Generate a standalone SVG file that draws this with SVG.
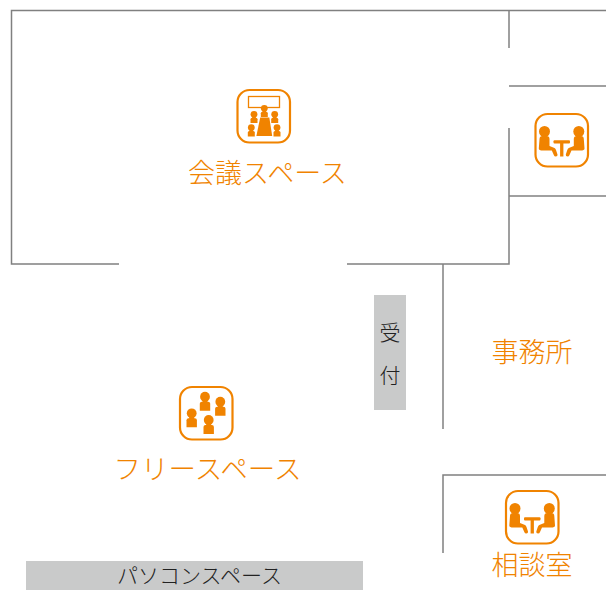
<svg xmlns="http://www.w3.org/2000/svg" width="606" height="590" viewBox="0 0 606 590">
<style>
.wall{stroke:#808080;stroke-width:1.5;fill:none}
.frame{fill:#fff;stroke:#f08300;stroke-width:2.200}
.ic{fill:#f08300}
.lab{fill:#f08300;font-family:"Noto Sans CJK JP","Noto Sans",sans-serif;font-weight:300;font-size:27px;text-anchor:middle}
.dark{fill:#222;font-family:"Noto Sans CJK JP","Noto Sans",sans-serif;font-weight:300;font-size:21px;text-anchor:middle}
.desk{fill:#c9caca}
</style>
<defs>
<g id="talk">
<rect class="frame" x="1" y="1" width="52.500" height="52.500" rx="12"/>
<g class="ic">
<circle cx="10" cy="18.500" r="5.500"/><circle cx="44.300" cy="18.500" r="5.500"/>
<path d="M5 26q0-3 3-3h4q3 0 3 3v7l5 2q1 .5 1.500 2l1.500 4.500q.3 2-1.700 2-1.500 0-2-1.500l-2-4.500-9 0q-4 0-4-2z"/>
<path d="M49.300 26q0-3-3-3h-4q-3 0-3 3v7l-5 2q-1 .5-1.500 2l-1.500 4.500q-.3 2 1.700 2 1.500 0 2-1.500l2-4.500 9 0q4 0 4-2z"/>
<rect x="19" y="27.300" width="16.500" height="3.200" rx="1"/>
<rect x="25.600" y="29" width="3.300" height="14.500"/>
</g>
</g>
<g id="p"><circle cx="0" cy="0" r="4.900"/><rect x="-2.500" y="3" width="5" height="3"/><path d="M-5.200 14V7q0-2 2-2h6.400q2 0 2 2v7z"/></g>
<g id="ps"><circle cx="0" cy="0" r="3.400"/><rect x="-1.800" y="2" width="3.600" height="2"/><path d="M-3.500 8.800V5q0-1.500 1.500-1.500h4q1.500 0 1.500 1.500v3.800z"/></g>
</defs>
<g id="walls" class="wall">
<path d="M119 264H11.500V10.500H606"/>
<path d="M347 264H509V128"/>
<path d="M509 10V48"/>
<path d="M509 86H606"/>
<path d="M509 196H606"/>
<path d="M443 264V429"/>
<path d="M443 553V475H606"/>
</g>
<g id="meeting">
<rect class="frame" x="237.500" y="90" width="52.500" height="52.500" rx="12"/>
<rect x="248.500" y="96.500" width="31" height="11" fill="#fff" stroke="#f08300" stroke-width="1.300"/>
<g class="ic">
<use href="#ps" x="264.300" y="108.300"/>
<use href="#ps" x="254" y="114.300"/>
<use href="#ps" x="274.700" y="114.300"/>
<use href="#ps" x="251.300" y="127.600"/>
<use href="#ps" x="277" y="127.600"/>
<path d="M260.200 117.500H269.300L272.200 136H256.400z"/>
</g>
<text class="lab" x="267.500" y="182.500">会議スペース</text>
</g>
<g id="talk1"><use href="#talk" x="534.500" y="113"/></g>
<g id="free">
<rect class="frame" x="180" y="387" width="52.500" height="52.500" rx="12"/>
<g class="ic">
<use href="#p" x="205" y="396.700"/>
<use href="#p" x="220.300" y="401.700"/>
<use href="#p" x="191.700" y="413.300"/>
<use href="#p" x="208.700" y="420"/>
</g>
<text class="lab" style="font-size:27.500px" x="207.500" y="479">フリースペース</text>
</g>
<g id="office"><text class="lab" x="532" y="362">事務所</text></g>
<g id="consult">
<use href="#talk" x="505" y="490"/>
<text class="lab" x="532" y="575">相談室</text>
</g>
<g id="reception">
<rect class="desk" x="374" y="295" width="32" height="115"/>
<text class="dark" x="390" y="340">受</text>
<text class="dark" x="390" y="383">付</text>
</g>
<g id="pc">
<rect class="desk" x="26" y="561" width="337" height="29"/>
<text class="dark" x="199.500" y="583">パソコンスペース</text>
</g>
</svg>
